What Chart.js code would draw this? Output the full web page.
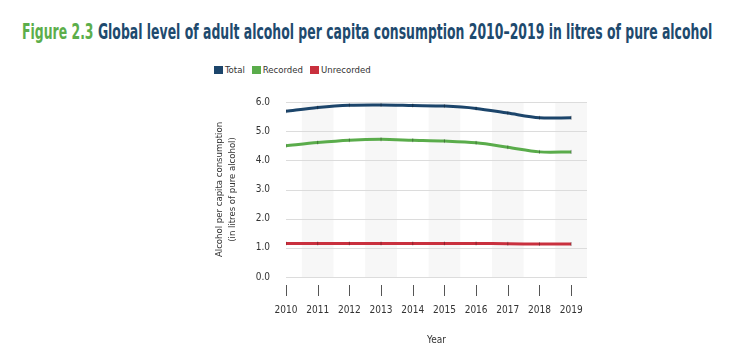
<!DOCTYPE html>
<html>
<head>
<meta charset="utf-8">
<script src="https://cdn.jsdelivr.net/npm/chart.js@4.4.1/dist/chart.umd.min.js"></script>
<style>
  html, body { margin: 0; padding: 0; background: #fff; }
  #wrap { position: relative; width: 739px; height: 360px; overflow: hidden; }
  #title {
    position: absolute; left: 22px; top: 20px; white-space: nowrap;
    font-family: 'DejaVu Sans Condensed', 'Liberation Sans Narrow', sans-serif;
    font-weight: bold; font-size: 20.5px; color: #1e4a6e;
    transform-origin: 0 0;
  }
  #title span { color: #5cae4b; }
  #legend {
    position: absolute; left: 214px; top: 64px; display: flex; gap: 7px;
    font-family: 'DejaVu Sans Condensed', sans-serif;
    font-size: 9.5px; color: #333;
  }
  #legend div { display: flex; align-items: center; }
  #legend i { display: inline-block; width: 9px; height: 8px; margin-right: 2px; }
  canvas { position: absolute; left: 0; top: 0; }
</style>
</head>
<body>
<div id="wrap">
  <div id="title"><span>Figure 2.3</span> Global level of adult alcohol per capita consumption 2010–2019 in litres of pure alcohol</div>
  <div id="legend"></div>
  <canvas id="chart" width="739" height="360"></canvas>
</div>
<script>
// Data
const years = [2010, 2011, 2012, 2013, 2014, 2015, 2016, 2017, 2018, 2019];
const total = [5.68, 5.81, 5.89, 5.9, 5.88, 5.86, 5.78, 5.62, 5.46, 5.46];
const recorded = [4.5, 4.61, 4.69, 4.72, 4.69, 4.66, 4.6, 4.45, 4.29, 4.29];
const unrecorded = [1.15, 1.15, 1.15, 1.15, 1.15, 1.15, 1.15, 1.14, 1.13, 1.13];
const yTicks = [0, 1, 2, 3, 4, 5, 6];

const seriesNames = ['Total', 'Recorded', 'Unrecorded'];
const seriesColors = ['#1c456b', '#5aac4b', '#c9303e'];
const seriesValues = [total, recorded, unrecorded];

const font = "'DejaVu Sans Condensed', sans-serif";

// squeeze the title to the width it has in the figure
const title = document.getElementById('title');
title.style.transform = 'scaleX(' + (690 / title.scrollWidth) + ')';

// Legend
const legend = document.getElementById('legend');
seriesNames.forEach((name, i) => {
    const item = document.createElement('div');
    item.innerHTML = '<i style="background:' + seriesColors[i] + '"></i>' + name;
    legend.appendChild(item);
});

// Alternate shaded bands + tick marks below the axis
const decorPlugin = {
    id: 'decor',
    beforeDatasetsDraw(chart) {
        const { ctx, chartArea, scales } = chart;
        ctx.save();
        ctx.fillStyle = '#f7f7f7';
        years.forEach((y, i) => {
            if (i % 2 === 1) {
                const x0 = Math.max(scales.x.getPixelForValue(y - 0.5), chartArea.left);
                const x1 = Math.min(scales.x.getPixelForValue(y + 0.5), chartArea.right);
                ctx.fillRect(x0, chartArea.top, x1 - x0, chartArea.bottom - chartArea.top);
            }
        });
        // horizontal grid on top of the bands
        ctx.strokeStyle = '#dcdcdc';
        ctx.lineWidth = 1;
        yTicks.forEach(v => {
            const py = Math.round(scales.y.getPixelForValue(v)) + 0.5;
            ctx.beginPath();
            ctx.moveTo(chartArea.left, py);
            ctx.lineTo(chartArea.right, py);
            ctx.stroke();
        });
        ctx.restore();
    },
    afterDraw(chart) {
        const { ctx, chartArea, scales } = chart;
        ctx.save();
        ctx.strokeStyle = '#555';
        ctx.lineWidth = 1;
        years.forEach(y => {
            const px = Math.round(scales.x.getPixelForValue(y)) + 0.5;
            ctx.beginPath();
            ctx.moveTo(px, chartArea.bottom + 8);
            ctx.lineTo(px, chartArea.bottom + 19);
            ctx.stroke();
        });
        ctx.restore();
    }
};

new Chart(document.getElementById('chart'), {
    type: 'line',
    data: {
        datasets: seriesNames.map((name, i) => ({
            label: name,
            data: years.map((y, j) => ({ x: y, y: seriesValues[i][j] })),
            borderColor: seriesColors[i],
            backgroundColor: seriesColors[i],
            borderWidth: 3,
            tension: 0.3,
            pointStyle: 'line',
            pointRotation: 90,
            pointRadius: 2,
            pointBorderWidth: 1,
            pointBorderColor: 'rgba(0,0,0,0.3)'
        }))
    },
    plugins: [decorPlugin],
    options: {
        responsive: false,
        animation: false,
        layout: { padding: { left: 203, right: 152, top: 102, bottom: 10 } },
        plugins: {
            legend: { display: false },
            tooltip: { enabled: false }
        },
        scales: {
            x: {
                type: 'linear',
                min: 2010,
                max: 2019.5,
                afterBuildTicks: (scale) => { scale.ticks = years.map(v => ({ value: v })); },
                afterFit: (scale) => { scale.height = 73; },
                grid: { display: false, drawTicks: false },
                border: { display: false },
                ticks: {
                    padding: 27,
                    autoSkip: false,
                    maxRotation: 0,
                    color: '#333',
                    font: { family: font, size: 10 },
                    callback: (v) => String(v)
                },
                title: {
                    display: true,
                    text: 'Year',
                    color: '#333',
                    padding: { top: 11 },
                    font: { family: font, size: 10 }
                }
            },
            y: {
                min: 0,
                max: 6,
                afterBuildTicks: (scale) => { scale.ticks = yTicks.map(v => ({ value: v })); },
                afterFit: (scale) => { scale.width = 83; },
                grid: { display: false, drawTicks: false },
                border: { display: false },
                ticks: {
                    padding: 16,
                    color: '#333',
                    font: { family: font, size: 10 },
                    callback: (v) => v.toFixed(1)
                },
                title: {
                    display: true,
                    text: ['Alcohol per capita consumption', '(in litres of pure alcohol)'],
                    color: '#333',
                    padding: { top: 10, bottom: 4 },
                    font: { family: font, size: 9.5, lineHeight: 1.35 }
                }
            }
        }
    }
});
</script>
</body>
</html>
